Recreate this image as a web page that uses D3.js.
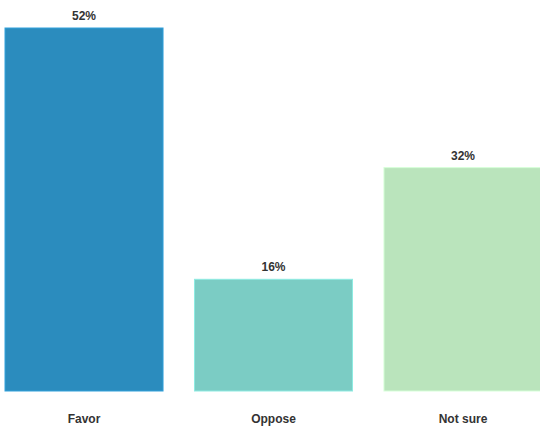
<!DOCTYPE html>
<html lang="en">
<head>
    <meta charset="UTF-8">
    <title>Favor / Oppose</title>
    <style>
        body { margin: 0; padding: 0; background: #fff; }
        svg { display: block; }
        .label { font-family: "Liberation Sans", Arial, sans-serif; font-weight: bold; font-size: 12px; fill: #333; }
    </style>
</head>
<body>
    <div id="chart"></div>
    <script src="https://d3js.org/d3.v7.min.js"></script>
    <script>
        // data
        const categories = ["Favor", "Oppose", "Not sure"];
        const values = [52, 16, 32];
        const colors = ["#2b8cbe", "#7bccc4", "#bae4bc"];

        const width = 540, height = 432;
        const baseline = 391;

        const svg = d3.select("#chart").append("svg")
            .attr("width", width)
            .attr("height", height);

        const x = d3.scaleBand()
            .domain(categories)
            .range([5, 542])
            .paddingInner(0.166)
            .paddingOuter(0);

        const y = d3.scaleLinear()
            .domain([0, 52])
            .range([baseline, 28]);

        const bars = categories.map((c, i) => ({ cat: c, value: values[i], color: colors[i] }));

        svg.selectAll(".bar")
            .data(bars)
            .enter()
            .append("rect")
            .attr("class", "bar")
            .attr("x", d => x(d.cat))
            .attr("y", d => y(d.value))
            .attr("width", x.bandwidth())
            .attr("height", d => baseline - y(d.value))
            .style("fill", d => d.color)
            .style("stroke", d => d3.color(d.color).brighter(0.4))
            .style("stroke-width", 1);

        svg.selectAll(".val")
            .data(bars)
            .enter()
            .append("text")
            .attr("class", "label")
            .attr("x", d => x(d.cat) + x.bandwidth() / 2)
            .attr("y", d => y(d.value) - 8)
            .attr("text-anchor", "middle")
            .text(d => d.value + "%");

        svg.selectAll(".cat")
            .data(bars)
            .enter()
            .append("text")
            .attr("class", "label")
            .attr("x", d => x(d.cat) + x.bandwidth() / 2)
            .attr("y", 423)
            .attr("text-anchor", "middle")
            .text(d => d.cat);
    </script>
</body>
</html>
